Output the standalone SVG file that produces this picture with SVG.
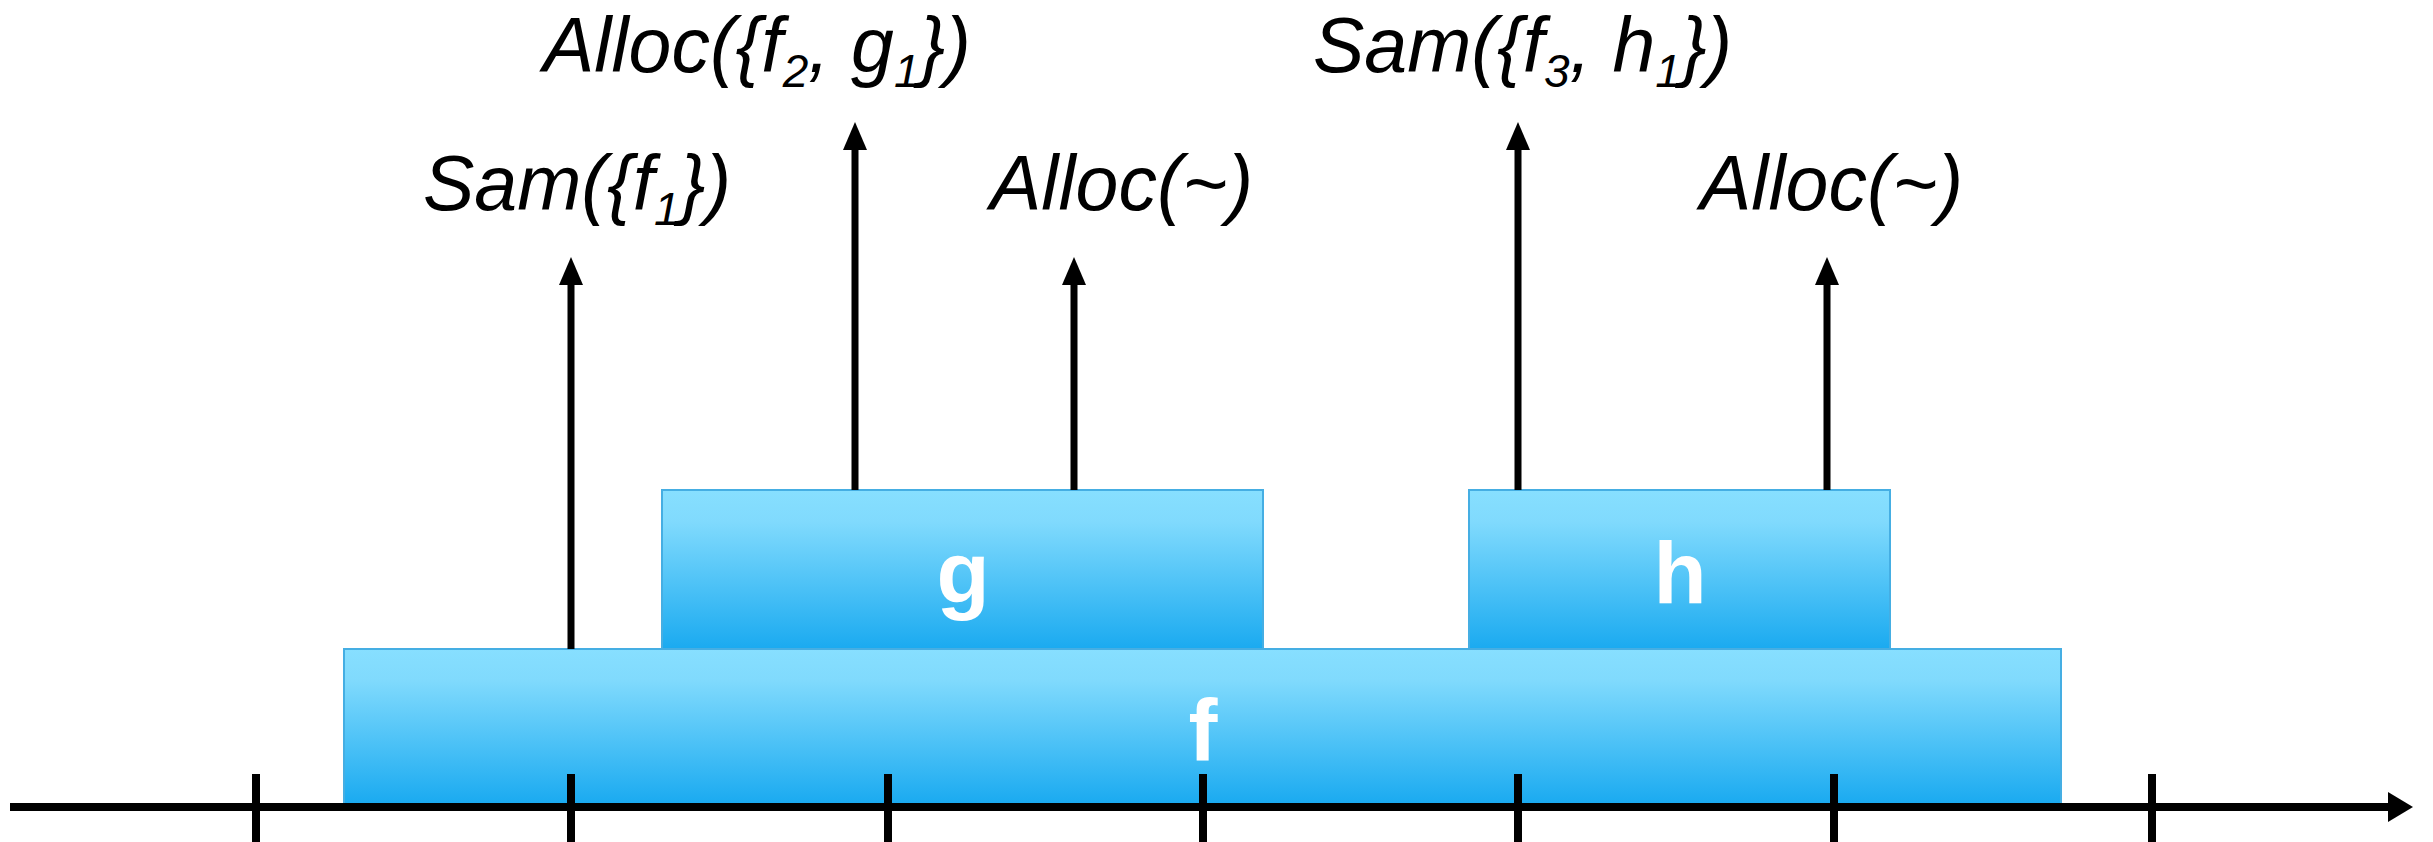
<svg xmlns="http://www.w3.org/2000/svg" width="2433" height="842" viewBox="0 0 2433 842">
  <defs>
    <linearGradient id="blue" x1="0" y1="0" x2="0" y2="1">
      <stop offset="0" stop-color="#87DFFF"/>
      <stop offset="0.2" stop-color="#80DAFD"/>
      <stop offset="1" stop-color="#1AAAF0"/>
    </linearGradient>
    <polygon id="head" points="0,0 12,28 -12,28" fill="#000"/>
  </defs>
  <style>
    .box { fill: url(#blue); stroke: #45AEE3; stroke-width: 2; }
    .lbl { font-family: "Liberation Sans", Arial, sans-serif; font-weight: bold; font-size: 87px; fill: #fff; text-anchor: middle; }
    .op { font-family: "Liberation Sans", Arial, sans-serif; font-style: italic; font-size: 77px; fill: #000; }
    .sub { font-size: 46px; }
    .conn { stroke: #000; stroke-width: 7; fill: none; }
    .axis { stroke: #000; stroke-width: 8; fill: none; }
  </style>
  <rect width="2433" height="842" fill="#fff"/>

  <g id="node-f">
    <rect class="box" x="344" y="649" width="1717" height="155"/>
    <text class="lbl" x="1203" y="760">f</text>
  </g>
  <g id="node-g">
    <rect class="box" x="662" y="490" width="601" height="159"/>
    <text class="lbl" x="963" y="603">g</text>
  </g>
  <g id="node-h">
    <rect class="box" x="1469" y="490" width="421" height="159"/>
    <text class="lbl" x="1680" y="603">h</text>
  </g>

  <g id="axis">
    <line class="axis" x1="10" y1="807" x2="2392" y2="807"/>
    <polygon points="2388,792 2413,807 2388,822" fill="#000"/>
    <line class="axis" x1="256" y1="774" x2="256" y2="842"/>
    <line class="axis" x1="571" y1="774" x2="571" y2="842"/>
    <line class="axis" x1="888" y1="774" x2="888" y2="842"/>
    <line class="axis" x1="1203" y1="774" x2="1203" y2="842"/>
    <line class="axis" x1="1518" y1="774" x2="1518" y2="842"/>
    <line class="axis" x1="1834" y1="774" x2="1834" y2="842"/>
    <line class="axis" x1="2152" y1="774" x2="2152" y2="842"/>
  </g>

  <g id="connectors">
    <line class="conn" x1="571" y1="649" x2="571" y2="280"/>
    <use href="#head" x="571" y="257"/>
    <line class="conn" x1="855" y1="490" x2="855" y2="145"/>
    <use href="#head" x="855" y="122"/>
    <line class="conn" x1="1074" y1="490" x2="1074" y2="280"/>
    <use href="#head" x="1074" y="257"/>
    <line class="conn" x1="1518" y1="490" x2="1518" y2="145"/>
    <use href="#head" x="1518" y="122"/>
    <line class="conn" x1="1827" y1="490" x2="1827" y2="280"/>
    <use href="#head" x="1827" y="257"/>
  </g>

  <g id="labels">
    <text class="op" x="543" y="72">Alloc({f<tspan class="sub" dy="15">2</tspan><tspan dy="-15">, g</tspan><tspan class="sub" dy="15">1</tspan><tspan dy="-15">})</tspan></text>
    <text class="op" x="423" y="210">Sam({f<tspan class="sub" dy="15">1</tspan><tspan dy="-15">})</tspan></text>
    <text class="op" x="990" y="210">Alloc(~)</text>
    <text class="op" x="1313" y="72">Sam({f<tspan class="sub" dy="15">3</tspan><tspan dy="-15">, h</tspan><tspan class="sub" dy="15">1</tspan><tspan dy="-15">})</tspan></text>
    <text class="op" x="1700" y="210">Alloc(~)</text>
  </g>
</svg>
